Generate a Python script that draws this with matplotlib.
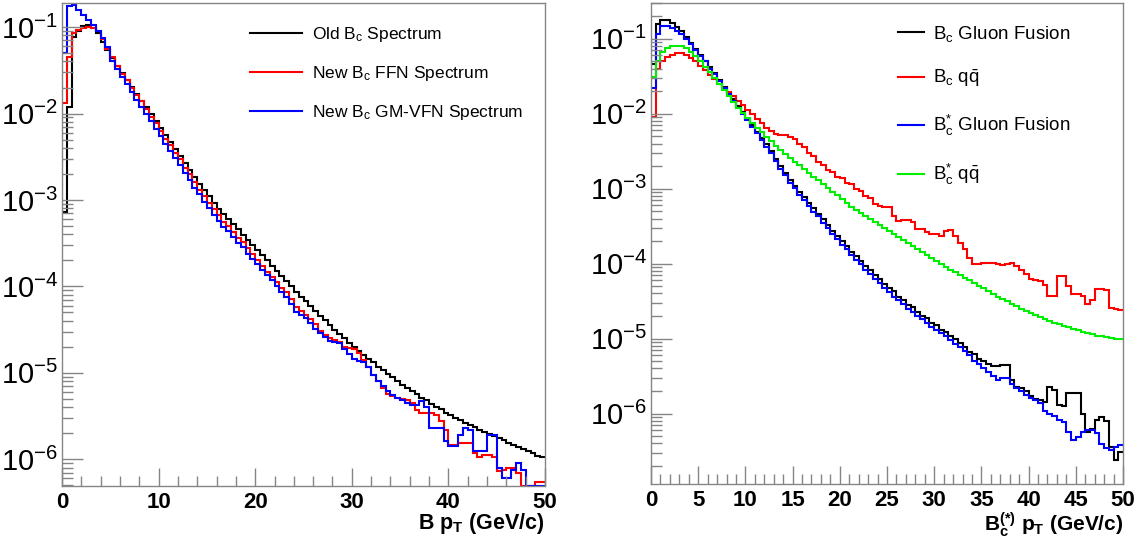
import numpy as np
import matplotlib
matplotlib.use('Agg')
from matplotlib import pyplot as plt, ticker

plt.rcParams['font.family'] = ['Liberation Sans', 'DejaVu Sans']
plt.rcParams['mathtext.fontset'] = 'custom'
plt.rcParams['mathtext.rm'] = 'Liberation Sans'
plt.rcParams['mathtext.it'] = 'Liberation Sans:italic'
plt.rcParams['mathtext.bf'] = 'Liberation Sans:bold'

# pT binning: 100 bins of 0.5 GeV/c
n_bins = 100
pt_max = 50.0

# left panel, log10 of bin contents (None = empty bin)
old_spectrum = [
    -3.14, -1.92, -1.12, -1.04, -0.99, -0.98, -1.01, -1.07, -1.17, -1.27,
    -1.36, -1.45, -1.53, -1.61, -1.69, -1.77, -1.85, -1.93, -2.01, -2.09,
    -2.17, -2.25, -2.33, -2.41, -2.49, -2.57, -2.65, -2.73, -2.81, -2.89,
    -2.96, -3.03, -3.10, -3.16, -3.22, -3.28, -3.34, -3.40, -3.46, -3.52,
    -3.58, -3.64, -3.70, -3.76, -3.82, -3.88, -3.94, -4.00, -4.06, -4.12,
    -4.17, -4.23, -4.28, -4.34, -4.39, -4.45, -4.50, -4.55, -4.60, -4.65,
    -4.70, -4.75, -4.79, -4.84, -4.88, -4.93, -4.97, -5.01, -5.05, -5.10,
    -5.14, -5.18, -5.21, -5.25, -5.29, -5.32, -5.36, -5.39, -5.42, -5.46,
    -5.49, -5.52, -5.55, -5.58, -5.60, -5.63, -5.66, -5.68, -5.71, -5.73,
    -5.76, -5.78, -5.81, -5.83, -5.86, -5.88, -5.91, -5.93, -5.96, -5.98,
]
ffn_spectrum = [
    -1.88, -1.35, -1.07, -1.03, -1.01, -1.00, -1.01, -1.05, -1.14, -1.25,
    -1.35, -1.45, -1.54, -1.61, -1.70, -1.79, -1.86, -1.95, -2.04, -2.11,
    -2.20, -2.29, -2.36, -2.46, -2.53, -2.63, -2.70, -2.79, -2.88, -2.95,
    -3.03, -3.11, -3.17, -3.25, -3.30, -3.37, -3.44, -3.49, -3.56, -3.62,
    -3.70, -3.76, -3.83, -3.89, -3.95, -4.02, -4.07, -4.15, -4.24, -4.28,
    -4.33, -4.38, -4.44, -4.52, -4.56, -4.60, -4.62, -4.64, -4.70, -4.71,
    -4.73, -4.77, -4.85, -4.93, -5.02, -5.10, -5.18, -5.25, -5.27, -5.29,
    -5.30, -5.31, -5.35, -5.43, -5.47, -5.47, -5.47, -5.49, -5.56, -5.66,
    -5.83, -5.83, -5.81, -5.81, -5.81, -5.93, -5.97, -5.95, -5.95, -5.97,
    -6.14, -6.12, -6.10, -6.10, -6.16, None, None, None, -6.26, -6.26,
]
gmvfn_spectrum = [
    -1.30, -0.76, -0.75, -0.80, -0.86, -0.92, -0.98, -1.05, -1.13, -1.23,
    -1.39, -1.49, -1.58, -1.66, -1.75, -1.84, -1.92, -2.01, -2.09, -2.18,
    -2.26, -2.35, -2.43, -2.52, -2.60, -2.69, -2.77, -2.86, -2.93, -3.02,
    -3.09, -3.17, -3.24, -3.31, -3.36, -3.43, -3.50, -3.55, -3.62, -3.68,
    -3.74, -3.81, -3.87, -3.93, -3.99, -4.06, -4.12, -4.20, -4.30, -4.33,
    -4.37, -4.42, -4.49, -4.54, -4.59, -4.63, -4.64, -4.65, -4.73, -4.78,
    -4.84, -4.86, -4.87, -4.93, -5.02, -5.09, -5.15, -5.21, -5.26, -5.29,
    -5.31, -5.35, -5.37, -5.37, -5.33, -5.39, -5.64, -5.64, -5.64, -5.79,
    -5.85, -5.85, -5.72, -5.64, -5.66, -5.91, -5.91, -5.91, -5.72, -5.72,
    -6.10, -6.22, -6.22, -6.12, -6.04, -6.12, None, None, None, None,
]

# right panel, log10 of bin contents
bc_gluon = [
    -1.33, -0.80, -0.75, -0.75, -0.79, -0.84, -0.90, -0.97, -1.05, -1.13,
    -1.21, -1.29, -1.38, -1.46, -1.55, -1.64, -1.73, -1.81, -1.90, -1.98,
    -2.07, -2.15, -2.24, -2.32, -2.41, -2.50, -2.60, -2.70, -2.79, -2.88,
    -2.96, -3.04, -3.11, -3.19, -3.26, -3.34, -3.41, -3.48, -3.56, -3.63,
    -3.70, -3.77, -3.84, -3.90, -3.97, -4.03, -4.09, -4.15, -4.21, -4.27,
    -4.33, -4.37, -4.45, -4.48, -4.55, -4.58, -4.64, -4.70, -4.72, -4.79,
    -4.82, -4.88, -4.91, -4.97, -5.00, -5.06, -5.11, -5.18, -5.21, -5.27,
    -5.30, -5.34, -5.37, -5.37, -5.35, -5.35, -5.55, -5.64, -5.66, -5.70,
    -5.77, -5.80, -5.82, -5.84, -5.64, -5.68, -5.88, -5.90, -5.73, -5.73,
    -5.73, -6.00, -6.24, -6.20, -6.08, -6.04, -6.10, -6.45, -6.62, -6.51,
]
bc_qqbar = [
    -2.05, -1.40, -1.30, -1.24, -1.21, -1.19, -1.19, -1.21, -1.25, -1.30,
    -1.36, -1.42, -1.48, -1.54, -1.60, -1.66, -1.71, -1.77, -1.83, -1.89,
    -1.95, -2.01, -2.07, -2.13, -2.19, -2.23, -2.27, -2.29, -2.29, -2.31,
    -2.34, -2.40, -2.44, -2.52, -2.56, -2.64, -2.68, -2.75, -2.78, -2.84,
    -2.86, -2.92, -2.94, -3.01, -3.03, -3.10, -3.13, -3.20, -3.23, -3.24,
    -3.25, -3.36, -3.43, -3.42, -3.42, -3.45, -3.54, -3.54, -3.58, -3.60,
    -3.61, -3.63, -3.56, -3.55, -3.63, -3.72, -3.81, -3.92, -4.01, -4.00,
    -3.99, -3.99, -3.99, -4.01, -4.02, -4.00, -3.99, -4.03, -4.08, -4.14,
    -4.21, -4.22, -4.23, -4.28, -4.43, -4.43, -4.17, -4.17, -4.30, -4.40,
    -4.41, -4.43, -4.54, -4.48, -4.34, -4.34, -4.35, -4.59, -4.60, -4.62,
]
bcstar_gluon = [
    -1.66, -0.93, -0.83, -0.83, -0.86, -0.90, -0.94, -1.00, -1.07, -1.15,
    -1.23, -1.30, -1.40, -1.47, -1.57, -1.66, -1.74, -1.83, -1.93, -2.00,
    -2.09, -2.18, -2.26, -2.35, -2.45, -2.53, -2.63, -2.74, -2.82, -2.92,
    -2.99, -3.09, -3.15, -3.23, -3.31, -3.37, -3.46, -3.52, -3.61, -3.67,
    -3.75, -3.81, -3.89, -3.95, -4.01, -4.08, -4.14, -4.21, -4.26, -4.32,
    -4.38, -4.44, -4.49, -4.54, -4.60, -4.64, -4.70, -4.74, -4.79, -4.84,
    -4.88, -4.92, -4.97, -5.02, -5.07, -5.11, -5.17, -5.22, -5.30, -5.34,
    -5.39, -5.45, -5.50, -5.55, -5.53, -5.52, -5.61, -5.66, -5.70, -5.75,
    -5.79, -5.82, -5.86, -5.97, -6.00, -6.03, -6.08, -6.11, -6.24, -6.35,
    -6.31, -6.24, -6.22, -6.22, -6.26, -6.40, -6.46, -6.49, -6.44, -6.42,
]
bcstar_qqbar = [
    -1.51, -1.30, -1.18, -1.12, -1.10, -1.09, -1.10, -1.12, -1.17, -1.23,
    -1.30, -1.37, -1.44, -1.52, -1.60, -1.68, -1.76, -1.84, -1.92, -1.99,
    -2.06, -2.13, -2.19, -2.25, -2.31, -2.37, -2.43, -2.49, -2.54, -2.59,
    -2.64, -2.69, -2.74, -2.79, -2.84, -2.89, -2.94, -2.99, -3.04, -3.09,
    -3.14, -3.19, -3.24, -3.28, -3.32, -3.37, -3.41, -3.45, -3.49, -3.53,
    -3.57, -3.61, -3.65, -3.69, -3.73, -3.77, -3.81, -3.85, -3.89, -3.93,
    -3.97, -4.00, -4.04, -4.08, -4.11, -4.15, -4.19, -4.22, -4.26, -4.30,
    -4.33, -4.37, -4.40, -4.44, -4.47, -4.50, -4.54, -4.57, -4.60, -4.63,
    -4.66, -4.69, -4.71, -4.74, -4.76, -4.79, -4.81, -4.83, -4.85, -4.87,
    -4.89, -4.91, -4.93, -4.94, -4.96, -4.97, -4.98, -4.99, -5.00, -5.00,
]

left_labels = [
    'Old B$_{\\rm c}$ Spectrum',
    'New B$_{\\rm c}$ FFN Spectrum',
    'New B$_{\\rm c}$ GM-VFN Spectrum',
]
right_labels = [
    'B$_{\\rm c}$ Gluon Fusion',
    'B$_{\\rm c}$ q$\\bar{\\rm q}$',
    'B$_{\\rm c}^{*}$ Gluon Fusion',
    'B$_{\\rm c}^{*}$ q$\\bar{\\rm q}$',
]

FRAME = '#858585'


def to_counts(log_values):
    return np.array([0.0 if v is None else 10.0 ** v for v in log_values])


def style_axes(ax, ylim, xmajor, xminor):
    ax.set_yscale('log')
    ax.set_xlim(0, pt_max)
    ax.set_ylim(*ylim)
    ax.xaxis.set_major_locator(ticker.MultipleLocator(xmajor))
    ax.xaxis.set_minor_locator(ticker.MultipleLocator(xminor))
    # only decades inside the visible range get a label
    decades = np.arange(np.ceil(np.log10(ylim[0])), np.floor(np.log10(ylim[1])) + 1)
    ax.yaxis.set_major_locator(ticker.FixedLocator(10.0 ** decades))
    ax.yaxis.set_minor_locator(ticker.LogLocator(base=10, subs=np.arange(2, 10), numticks=100))
    ax.yaxis.set_minor_formatter(ticker.NullFormatter())
    ax.tick_params(which='both', direction='in', top=False, right=False, color=FRAME, width=1)
    ax.tick_params(axis='y', which='major', length=15, labelsize=21, pad=3)
    ax.tick_params(axis='y', which='minor', length=8)
    ax.tick_params(axis='x', which='major', length=13, labelsize=16, pad=4)
    ax.tick_params(axis='x', which='minor', length=7)
    for label in ax.get_xticklabels():
        label.set_fontweight('bold')
    for spine in ax.spines.values():
        spine.set_color(FRAME)
        spine.set_linewidth(1)


def draw_hist(ax, log_values, color, label):
    edges = np.linspace(0, pt_max, n_bins + 1)
    counts = np.clip(to_counts(log_values), ax.get_ylim()[0], None)
    ax.stairs(counts, edges, baseline=None, color=color, lw=1.5, label=label)


def main():
    fig = plt.figure(figsize=(11.43, 5.39), dpi=100)

    # left: old vs new Bc spectra
    ax1 = fig.add_axes([62 / 1143, 53 / 539, 483 / 1143, 483 / 539])
    style_axes(ax1, (4.9e-7, 0.19), 10, 2)
    for values, color, label in zip([old_spectrum, ffn_spectrum, gmvfn_spectrum],
                                    ['black', '#ff0000', '#0000ff'], left_labels):
        draw_hist(ax1, values, color, label)
    ax1.set_xlabel('B p$_\\mathbf{T}$ (GeV/c)', fontsize=15.5, fontweight='bold',
                   ha='right', va='top')
    ax1.xaxis.set_label_coords(1.0, -0.052)
    ax1.legend(loc='upper left', bbox_to_anchor=(0.389, 0.955), frameon=False,
               fontsize=12.5, handlelength=3.0, handletextpad=0.6,
               labelspacing=1.15, borderpad=0, borderaxespad=0)

    # right: production channels
    ax2 = fig.add_axes([651 / 1143, 55 / 539, 472 / 1143, 481 / 539])
    style_axes(ax2, (1.15e-7, 0.30), 5, 1)
    for values, color, label in zip([bc_gluon, bc_qqbar, bcstar_gluon, bcstar_qqbar],
                                    ['black', '#ff0000', '#0000ff', '#00ee00'], right_labels):
        draw_hist(ax2, values, color, label)
    ax2.set_xlabel('B$_\\mathbf{c}^\\mathbf{(*)}$ p$_\\mathbf{T}$ (GeV/c)', fontsize=15,
                   fontweight='bold', ha='right', va='top')
    ax2.xaxis.set_label_coords(1.0, -0.055)
    ax2.legend(loc='upper left', bbox_to_anchor=(0.523, 0.957), frameon=False,
               fontsize=13.5, handlelength=1.4, handletextpad=0.45,
               labelspacing=1.28, borderpad=0, borderaxespad=0)

    fig.savefig('out.png', dpi=100)


if __name__ == '__main__':
    main()
